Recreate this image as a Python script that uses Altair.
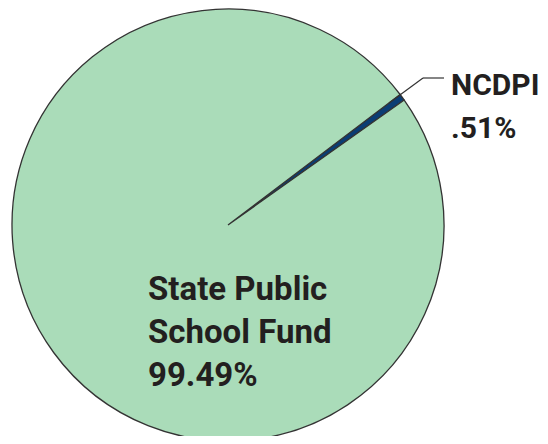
import altair as alt
import pandas as pd

categories = ["NCDPI", "State Public School Fund"]
shares = [0.51, 99.49]
label_lines = [["NCDPI", ".51%"], ["State Public", "School Fund", "99.49%"]]
colors = ["#0b3d74", "#aadcb9"]

df = pd.DataFrame({"category": categories, "share": shares, "order": [0, 1]})

start = 0.922  # rotation of the first slice (radians, clockwise from 12 o'clock)
two_pi = 6.283185307

pie = alt.Chart(df).mark_arc(
    outerRadius=216, stroke="#333333", strokeWidth=1.3
).encode(
    theta=alt.Theta("share:Q", stack=True, scale=alt.Scale(range=[start, start + two_pi])),
    order=alt.Order("order:Q"),
    color=alt.Color("category:N", scale=alt.Scale(domain=categories, range=colors), legend=None),
    x=alt.value(220),
    y=alt.value(217),
)

font = "Roboto, sans-serif"

lab_df = pd.DataFrame({"category": categories, "label": ["\n".join(l) for l in label_lines]})

big_label = alt.Chart(lab_df).transform_filter(
    alt.datum.category == categories[1]
).mark_text(
    align="left", baseline="alphabetic", font=font, fontSize=33, fontWeight="bold",
    color="#231f20", lineBreak="\n", lineHeight=43
).encode(text="label:N", x=alt.value(140), y=alt.value(292))

small_label = alt.Chart(lab_df).transform_filter(
    alt.datum.category == categories[0]
).mark_text(
    align="left", baseline="alphabetic", font=font, fontSize=30, fontWeight="bold",
    color="#231f20", lineBreak="\n", lineHeight=43
).encode(text="label:N", x=alt.value(443), y=alt.value(87))

leader1 = alt.Chart(lab_df).transform_filter(
    alt.datum.category == categories[0]
).mark_rule(color="#333333", strokeWidth=1.2).encode(
    x=alt.value(381), y=alt.value(95), x2=alt.value(415), y2=alt.value(70)
)
leader2 = alt.Chart(lab_df).transform_filter(
    alt.datum.category == categories[0]
).mark_rule(color="#333333", strokeWidth=1.2).encode(
    x=alt.value(415), y=alt.value(70), x2=alt.value(436), y2=alt.value(70)
)

chart = alt.layer(pie, leader1, leader2, big_label, small_label).properties(
    width=532, height=428, autosize=alt.AutoSizeParams(type="none"), padding=0
).configure_view(stroke=None)

chart.save("out.html", embed_options={"renderer": "svg", "actions": False})
